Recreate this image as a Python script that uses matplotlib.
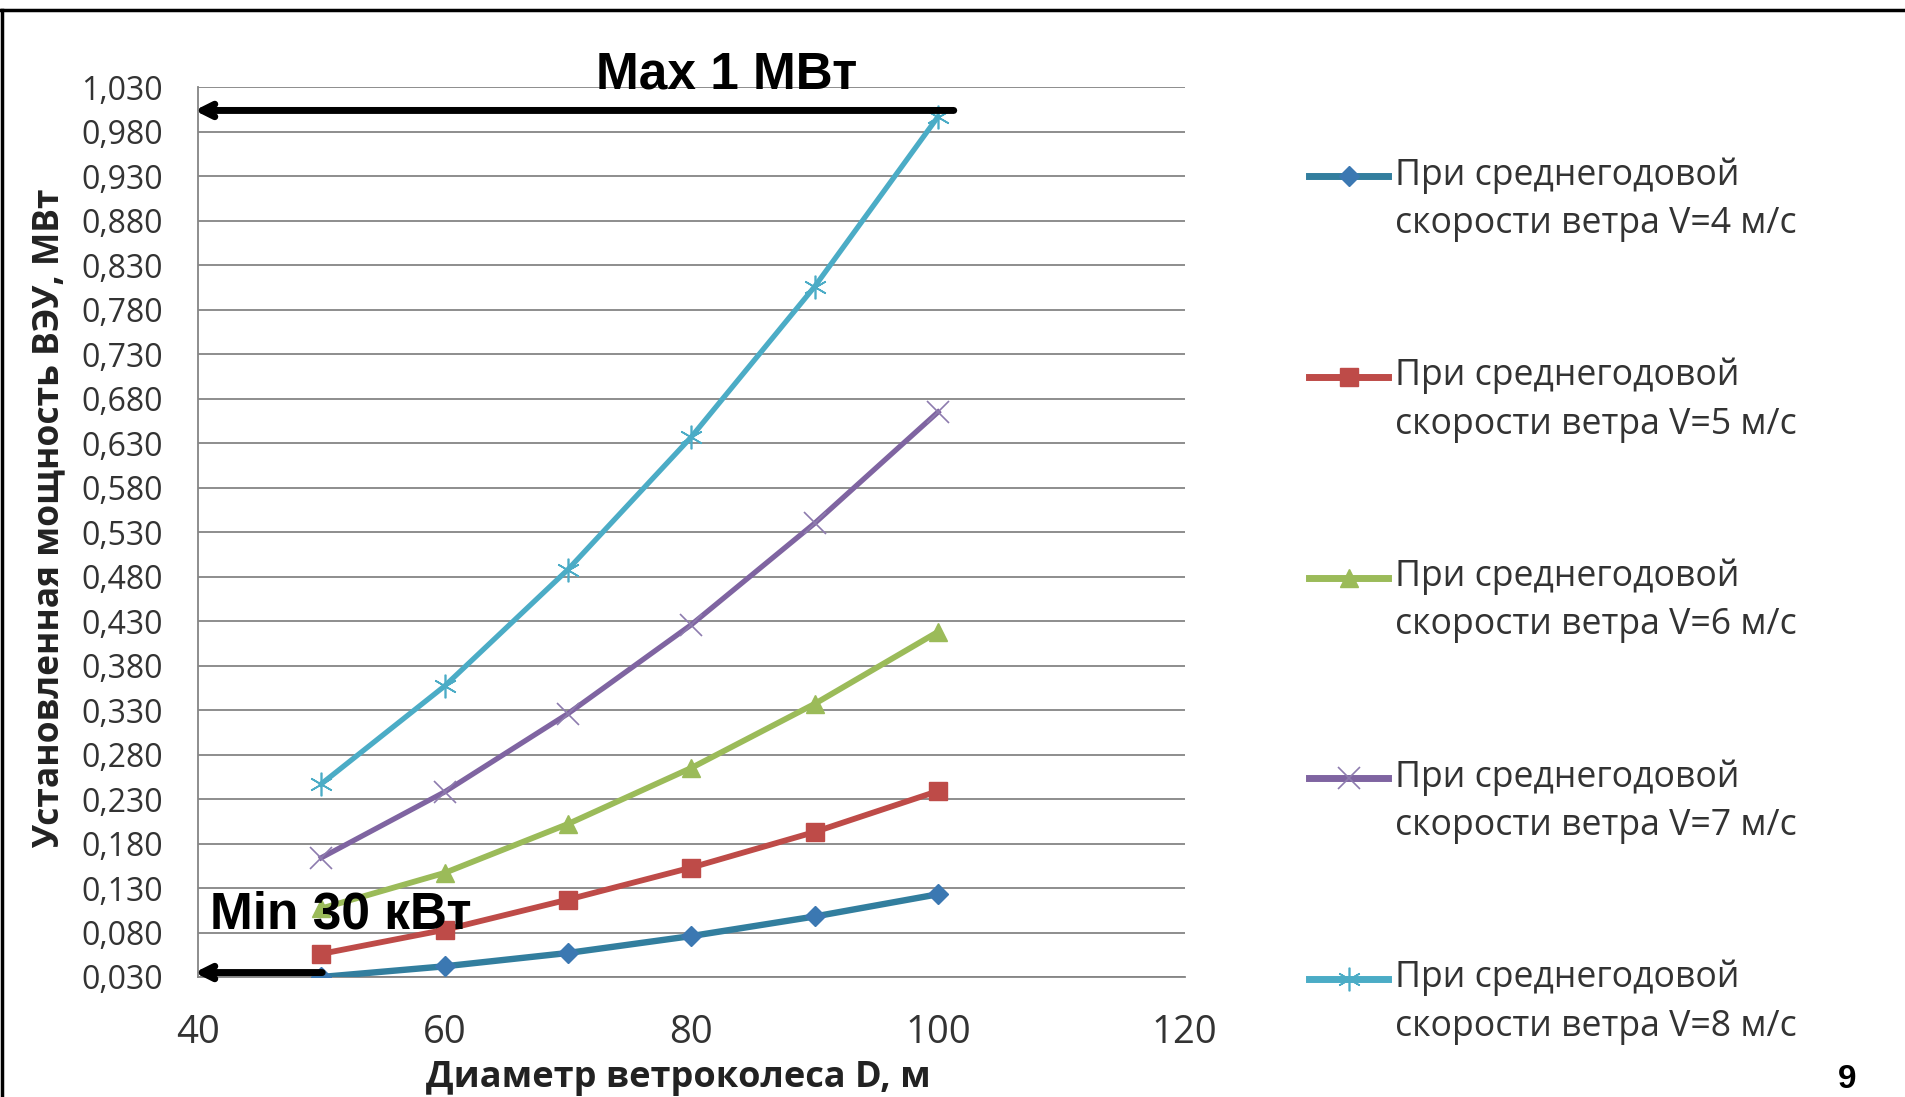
import matplotlib
matplotlib.use('Agg')
import numpy as np
import matplotlib.pyplot as plt
from matplotlib.lines import Line2D
from matplotlib.legend_handler import HandlerLine2D

plt.rcParams['font.family'] = ['Open Sans', 'DejaVu Sans']

# диаметр ветроколеса, м
diam = [50, 60, 70, 80, 90, 100]
# установленная мощность, МВт, при разной скорости ветра
p_v4 = [0.030, 0.042, 0.057, 0.076, 0.098, 0.123]
p_v5 = [0.056, 0.083, 0.117, 0.153, 0.193, 0.239]
p_v6 = [0.107, 0.147, 0.202, 0.265, 0.337, 0.418]
p_v7 = [0.164, 0.238, 0.326, 0.426, 0.540, 0.665]
p_v8 = [0.247, 0.357, 0.488, 0.637, 0.806, 0.997]
labels = ['При среднегодовой\nскорости ветра V=%d м/с' % v for v in (4, 5, 6, 7, 8)]
yticks = [0.030 + 0.05 * i for i in range(21)]
xticks = [40, 60, 80, 100, 120]

colors = ['#327E9E', '#BE4B48', '#9BBB59', '#7F64A1', '#4BACC6']
mcolors = ['#3B78B2', '#BE4B48', '#9BBB59', '#8D7BAE', '#4BACC6']
markers = ['D', 's', '^', 'x', (6, 2, 0)]
msizes = [10, 13, 13, 16, 17]
lws = [4.6, 4.2, 4.2, 3.8, 3.8]


class UpHandler(HandlerLine2D):
    # маркер легенды на уровне первой строки подписи
    def create_artists(self, legend, orig_handle, xdescent, ydescent,
                       width, height, fontsize, trans):
        arts = super().create_artists(legend, orig_handle, xdescent, ydescent,
                                      width, height, fontsize, trans)
        for a in arts:
            a.set_ydata(np.asarray(a.get_ydata()) + 0.68 * fontsize)
        return arts


fig = plt.figure(figsize=(19.05, 10.97), dpi=100)
ax = fig.add_axes([0.1039, 0.1094, 0.518, 0.811])

series = [p_v4, p_v5, p_v6, p_v7, p_v8]
for s, c, mc, m, ms, lw, lab in zip(series, colors, mcolors, markers, msizes, lws, labels):
    ax.plot(diam, s, color=c, lw=lw, marker=m, markersize=ms,
            markeredgewidth=1.2 if m in ('x', (6, 2, 0)) else 1,
            markeredgecolor=mc, markerfacecolor=mc, label=lab, zorder=3)

ax.set_xlim(40, 120)
ax.set_ylim(0.030, 1.030)
ax.set_xticks(xticks)
ax.set_yticks(yticks)
ax.set_yticklabels([('%.3f' % t).replace('.', ',') for t in yticks], fontsize=23, color='#333333')
ax.set_xticklabels([str(t) for t in xticks], fontsize=27.5, color='#333333')
ax.tick_params(length=0)
ax.tick_params(axis='y', pad=25)
ax.tick_params(axis='x', pad=27)
ax.yaxis.grid(True, color='#858585', lw=1.3)
ax.set_axisbelow(True)
for sp in ['top', 'right']:
    ax.spines[sp].set_visible(False)
ax.spines['left'].set_color('#858585')
ax.spines['bottom'].set_color('#858585')
ax.spines['left'].set_linewidth(1.3)
ax.spines['bottom'].set_linewidth(1.3)

ax.set_ylabel('Установленная мощность ВЭУ, МВт', fontsize=25.5, fontweight='bold', color='#222222')
ax.yaxis.set_label_coords(-0.132, 0.516)
ax.set_xlabel('Диаметр ветроколеса D, м', fontsize=26, fontweight='bold', color='#222222')
ax.xaxis.set_label_coords(0.487, -0.093)

# стрелки max / min
ax.annotate('', xy=(39.5, 1.004), xytext=(101.5, 1.004),
            arrowprops=dict(arrowstyle='->, head_length=0.9, head_width=0.45', lw=5, color='black'),
            annotation_clip=False, zorder=5)
ax.annotate('', xy=(39.5, 0.035), xytext=(50.3, 0.035),
            arrowprops=dict(arrowstyle='->, head_length=0.9, head_width=0.45', lw=5, color='black'),
            annotation_clip=False, zorder=5)
fig.text(727 / 1905, 1 - 75 / 1097, 'Max 1 МВт', fontsize=37, fontweight='bold',
         family='Liberation Sans', ha='center', va='center')
ax.text(41.0, 0.100, 'Min 30 кВт', fontsize=37, fontweight='bold',
        family='Liberation Sans', ha='left', va='center', zorder=6)

leg = fig.legend(loc='upper left', bbox_to_anchor=(1295 / 1905, 1 - 143 / 1097),
                 frameon=False, fontsize=25.7, handlelength=2.2, handletextpad=0.2,
                 labelspacing=3.25, borderaxespad=0,
                 handler_map={Line2D: UpHandler(marker_pad=0.3)})
for t in leg.get_texts():
    t.set_linespacing(1.45)
    t.set_color('#333333')
for h in leg.legend_handles:
    h.set_linewidth(5)

fig.text(1847 / 1905, 1 - 1079 / 1097, '9', fontsize=24, fontweight='bold',
         family='Liberation Sans', ha='center', va='center')

# рамка слайда
fig.add_artist(Line2D([0, 1], [1 - 10 / 1097] * 2, color='black', lw=2.5, transform=fig.transFigure))
fig.add_artist(Line2D([0.001, 0.001], [0, 1 - 10 / 1097], color='black', lw=2.5, transform=fig.transFigure))

fig.savefig('out.png', dpi=100)
